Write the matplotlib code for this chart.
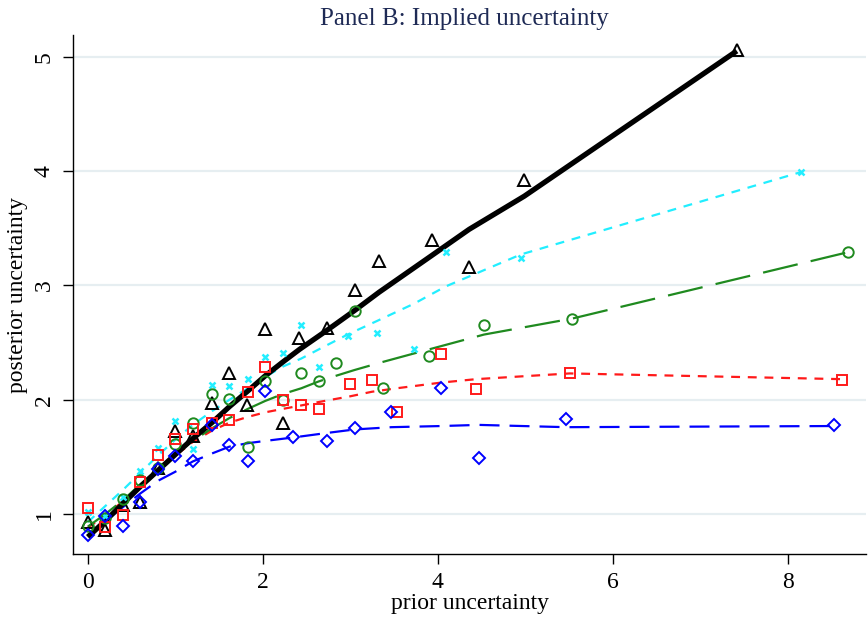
import matplotlib
matplotlib.use("Agg")
import matplotlib.pyplot as plt
import numpy as np

plt.rcParams['font.family'] = ['Liberation Serif', 'DejaVu Serif']

# group 1: black triangles, solid thick fit
x_blk = [0, 0.2, 0.4, 0.6, 0.8, 1.0, 1.2, 1.42, 1.62, 1.82, 2.03, 2.23, 2.42, 2.74, 3.05, 3.33, 3.93, 4.36, 4.99, 7.42]
y_blk = [0.93, 0.86, 1.08, 1.11, 1.40, 1.73, 1.68, 1.97, 2.23, 1.95, 2.62, 1.80, 2.54, 2.63, 2.96, 3.21, 3.40, 3.16, 3.92, 5.06]
f_blk = [0.80, 0.94, 1.09, 1.24, 1.38, 1.52, 1.66, 1.80, 1.94, 2.07, 2.21, 2.33, 2.44, 2.61, 2.78, 2.94, 3.26, 3.49, 3.78, 5.05]

# group 2: cyan crosses, short dash fit
x_cyn = [0, 0.2, 0.4, 0.6, 0.8, 1.0, 1.2, 1.42, 1.62, 1.83, 2.03, 2.23, 2.44, 2.64, 2.97, 3.31, 3.73, 4.09, 4.95, 8.15]
y_cyn = [1.02, 0.98, 1.15, 1.38, 1.58, 1.81, 1.57, 2.13, 2.12, 2.18, 2.37, 2.41, 2.65, 2.29, 2.56, 2.58, 2.44, 3.29, 3.24, 3.99]
f_cyn = [0.93, 1.07, 1.21, 1.36, 1.51, 1.65, 1.78, 1.90, 2.00, 2.10, 2.20, 2.29, 2.36, 2.44, 2.57, 2.69, 2.84, 2.99, 3.27, 3.99]

# group 3: green circles, long dash fit
x_grn = [0, 0.2, 0.4, 0.6, 0.8, 1.0, 1.2, 1.42, 1.62, 1.83, 2.03, 2.23, 2.44, 2.64, 2.84, 3.05, 3.37, 3.9, 4.53, 5.54, 8.69]
y_grn = [0.90, 0.97, 1.13, 1.30, 1.40, 1.61, 1.80, 2.05, 2.01, 1.59, 2.16, 2.00, 2.23, 2.16, 2.32, 2.78, 2.10, 2.38, 2.65, 2.71, 3.29]
f_grn = [0.89, 1.00, 1.12, 1.26, 1.39, 1.52, 1.64, 1.75, 1.84, 1.92, 1.99, 2.05, 2.10, 2.16, 2.21, 2.26, 2.33, 2.44, 2.57, 2.71, 3.29]

# group 4: red squares, dash fit
x_red = [0, 0.2, 0.4, 0.6, 0.8, 1.0, 1.2, 1.42, 1.62, 1.83, 2.03, 2.23, 2.44, 2.64, 3.0, 3.25, 3.53, 4.04, 4.44, 5.51, 8.62]
y_red = [1.05, 0.89, 0.99, 1.28, 1.52, 1.66, 1.74, 1.80, 1.82, 2.07, 2.29, 2.00, 1.95, 1.92, 2.14, 2.17, 1.89, 2.40, 2.09, 2.23, 2.17]
f_red = [0.88, 0.99, 1.11, 1.24, 1.38, 1.51, 1.63, 1.73, 1.80, 1.85, 1.89, 1.92, 1.95, 1.98, 2.03, 2.07, 2.10, 2.15, 2.18, 2.23, 2.18]

# group 5: blue diamonds, long dash fit
x_blu = [0, 0.2, 0.4, 0.6, 0.8, 1.0, 1.2, 1.42, 1.62, 1.83, 2.03, 2.35, 2.74, 3.05, 3.47, 4.04, 4.47, 5.47, 8.53]
y_blu = [0.82, 0.98, 0.90, 1.11, 1.39, 1.51, 1.46, 1.78, 1.60, 1.46, 2.08, 1.67, 1.64, 1.75, 1.89, 2.10, 1.49, 1.83, 1.78]
f_blu = [0.81, 0.94, 1.06, 1.18, 1.29, 1.37, 1.46, 1.53, 1.59, 1.62, 1.64, 1.67, 1.71, 1.74, 1.76, 1.77, 1.78, 1.76, 1.77]

x_ticks = [0, 2, 4, 6, 8]
y_ticks = [1, 2, 3, 4, 5]

fig = plt.figure(figsize=(8.68, 6.24), dpi=100)
ax = fig.add_axes([0.084, 0.112, 0.914, 0.832])

# fitted lines
ax.plot(x_blu, f_blu, color='#0000ff', lw=1.6, dashes=(9, 4.5), zorder=2)
ax.plot(x_red, f_red, color='#ff1a1a', lw=1.6, dashes=(4, 3.5), zorder=2.1)
ax.plot(x_grn, f_grn, color='#1f8a1f', lw=1.6, dashes=(16, 6), zorder=2.2)
ax.plot(x_cyn, f_cyn, color='#22eeff', lw=1.6, dashes=(4, 3.5), zorder=2.3)
ax.plot(x_blk, f_blk, color='black', lw=3.8, solid_capstyle='butt', zorder=2.4)

# binned points
ax.plot(x_blk, y_blk, ls='none', marker='^', ms=8, mfc='none', mec='black', mew=1.4, zorder=3)
ax.plot(x_cyn, y_cyn, ls='none', marker='x', ms=5, mec='#22eeff', mew=1.8, zorder=3)
ax.plot(x_grn, y_grn, ls='none', marker='o', ms=7.5, mfc='none', mec='#1f8a1f', mew=1.4, zorder=3)
ax.plot(x_red, y_red, ls='none', marker='s', ms=7, mfc='none', mec='#ff1a1a', mew=1.4, zorder=3)
ax.plot(x_blu, y_blu, ls='none', marker='D', ms=6.5, mfc='none', mec='#0000ff', mew=1.4, zorder=3)

ax.set_xlim(-0.17, 8.9)
ax.set_ylim(0.65, 5.19)
ax.set_xticks(x_ticks)
ax.set_yticks(y_ticks)
ax.grid(axis='y', color='#e6eef1', lw=1.6)
ax.set_axisbelow(True)

for s in ['top', 'right']:
    ax.spines[s].set_visible(False)
for s in ['left', 'bottom']:
    ax.spines[s].set_linewidth(1.0)

ax.tick_params(direction='out', length=7, width=1.0, labelsize=17, pad=6)
for lbl in ax.get_yticklabels():
    lbl.set_rotation(90)
    lbl.set_va('center')

ax.set_xlabel('prior uncertainty', fontsize=17, labelpad=0)
ax.set_ylabel('posterior uncertainty', fontsize=17, labelpad=4)
fig.text(0.535, 0.97, 'Panel B: Implied uncertainty', ha='center', va='center',
         fontsize=18, color='#1e2a55')

fig.savefig('out.png', dpi=100)
